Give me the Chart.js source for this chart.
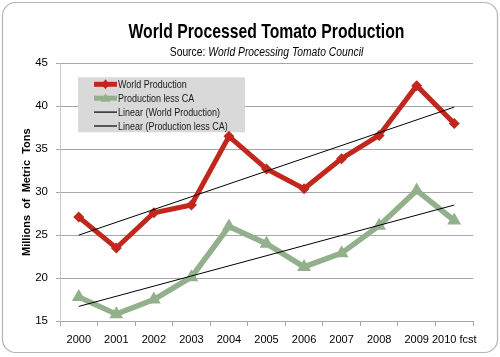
<!DOCTYPE html>
<html>
<head>
<meta charset="utf-8">
<script src="https://cdn.jsdelivr.net/npm/chart.js@4/dist/chart.umd.min.js"></script>
<style>
  html, body { margin: 0; padding: 0; background: #ffffff; }
  #wrap { width: 500px; height: 357px; position: relative; }
</style>
</head>
<body>
<div id="wrap"><canvas id="c" width="500" height="357"></canvas></div>
<script>
// ---- Data ----
const years = ['2000', '2001', '2002', '2003', '2004', '2005', '2006', '2007', '2008', '2009', '2010 fcst'];
const worldProduction = [27.1, 23.5, 27.6, 28.5, 36.5, 32.7, 30.4, 33.9, 36.6, 42.4, 38.0];
const productionLessCA = [17.8, 15.8, 17.5, 20.1, 26.0, 24.0, 21.3, 22.9, 26.1, 30.2, 26.7];
// Trend lines as drawn in the picture (endpoints)
const linearWorld = [25.0, null, null, null, null, null, null, null, null, null, 39.9];
const linearLessCA = [16.7, null, null, null, null, null, null, null, null, null, 28.5];
const yTicks = [15, 20, 25, 30, 35, 40, 45];

const chartTitle = 'World Processed Tomato Production';
const subtitleLead = 'Source: ';
const subtitleRest = 'World Processing Tomato Council';
const yTitle = 'Millions  of  Metric  Tons';

const RED = '#C1271D';
const GREEN = '#93B08C';
const FONT = '"Liberation Sans", Arial, sans-serif';

// draw text horizontally condensed (the reference uses a narrow typeface)
function condensedText(ctx, text, x, y, sx) {
  ctx.save();
  ctx.translate(x, y);
  ctx.scale(sx, 1);
  ctx.fillText(text, 0, 0);
  ctx.restore();
}

const framePlugin = {
  id: 'frame',
  beforeDraw(chart) {
    const ctx = chart.ctx;
    ctx.save();
    ctx.fillStyle = '#ffffff';
    ctx.fillRect(0, 0, chart.width, chart.height);
    ctx.beginPath();
    ctx.roundRect(2.5, 2.5, chart.width - 5, chart.height - 7, 13);
    ctx.strokeStyle = '#b4b4b4';
    ctx.lineWidth = 1.2;
    ctx.stroke();
    ctx.restore();
  },
  afterDraw(chart) {
    const ctx = chart.ctx;
    const ca = chart.chartArea;
    const cx = (ca.left + ca.right) / 2;
    ctx.save();
    ctx.fillStyle = '#000';
    ctx.textBaseline = 'middle';
    ctx.textAlign = 'left';
    // title
    ctx.font = 'bold 21px ' + FONT;
    const sxT = 0.75;
    const wt = ctx.measureText(chartTitle).width * sxT;
    condensedText(ctx, chartTitle, cx - wt / 2, 32, sxT);
    // subtitle with mixed styles
    const sxS = 0.86;
    const f1 = '12px ' + FONT;
    const f2 = 'italic 12px ' + FONT;
    ctx.font = f1; const w1 = ctx.measureText(subtitleLead).width * sxS;
    ctx.font = f2; const w2 = ctx.measureText(subtitleRest).width * sxS;
    const x0 = cx - (w1 + w2) / 2;
    ctx.font = f1;
    condensedText(ctx, subtitleLead, x0, 53, sxS);
    ctx.font = f2;
    condensedText(ctx, subtitleRest, x0 + w1, 53, sxS);
    ctx.restore();
  }
};

const legendPlugin = {
  id: 'boxLegend',
  beforeDatasetsDraw(chart) {
    const ctx = chart.ctx;
    const ca = chart.chartArea;
    const bx = ca.left + 18, by = ca.top + 14, bw = 167, bh = 55;
    ctx.save();
    ctx.fillStyle = '#d9d9d9';
    ctx.fillRect(bx, by, bw, bh);
    const rowH = 13.9;
    chart.data.datasets.forEach((ds, i) => {
      const y = by + 7 + i * rowH;
      const x1 = bx + 16, x2 = bx + 39;
      ctx.beginPath();
      ctx.moveTo(x1, y); ctx.lineTo(x2, y);
      ctx.strokeStyle = ds.borderColor;
      ctx.lineWidth = ds.legendLineWidth;
      ctx.stroke();
      if (ds.pointRadius > 0) {
        const mx = (x1 + x2) / 2;
        ctx.fillStyle = ds.borderColor;
        ctx.beginPath();
        if (ds.pointStyle === 'triangle') {
          ctx.moveTo(mx, y - 5); ctx.lineTo(mx + 5, y + 3.5); ctx.lineTo(mx - 5, y + 3.5);
        } else {
          ctx.moveTo(mx, y - 5); ctx.lineTo(mx + 4, y); ctx.lineTo(mx, y + 5); ctx.lineTo(mx - 4, y);
        }
        ctx.closePath(); ctx.fill();
      }
      ctx.fillStyle = '#1a1a1a';
      ctx.font = '11.5px ' + FONT;
      ctx.textBaseline = 'middle';
      ctx.textAlign = 'left';
      condensedText(ctx, ds.label, x2 + 1, y + 0.5, 0.78);
    });
    ctx.restore();
  }
};

new Chart(document.getElementById('c'), {
  type: 'line',
  data: {
    labels: years,
    datasets: [
      { label: 'World Production', data: worldProduction, borderColor: RED, backgroundColor: RED,
        borderWidth: 5, pointStyle: 'rectRot', pointRadius: 5.5, pointBorderWidth: 0, legendLineWidth: 5, order: 2 },
      { label: 'Production less CA', data: productionLessCA, borderColor: GREEN, backgroundColor: GREEN,
        borderWidth: 5.5, pointStyle: 'triangle', pointRadius: 8, pointBorderWidth: 0, legendLineWidth: 5, order: 3 },
      { label: 'Linear (World Production)', data: linearWorld, borderColor: '#000000', backgroundColor: '#000',
        borderWidth: 1, pointRadius: 0, spanGaps: true, legendLineWidth: 1.2, order: 0 },
      { label: 'Linear (Production less CA)', data: linearLessCA, borderColor: '#000000', backgroundColor: '#000',
        borderWidth: 1, pointRadius: 0, spanGaps: true, legendLineWidth: 1.2, order: 1 }
    ]
  },
  options: {
    responsive: false,
    animation: false,
    devicePixelRatio: 1,
    layout: { padding: { left: 0, right: 27, top: 63.3, bottom: 0 } },
    plugins: {
      legend: { display: false },
      tooltip: { enabled: false },
      title: { display: false }
    },
    scales: {
      x: {
        offset: true,
        grid: { display: true, drawOnChartArea: false, offset: true, tickLength: 5, color: '#a6a6a6' },
        border: { display: true, color: '#a6a6a6', width: 1 },
        ticks: { color: '#000', font: { family: FONT, size: 11 }, padding: 7, maxRotation: 0, autoSkip: false },
        afterFit(scale) { scale.height = 36; }
      },
      y: {
        min: 15, max: 45,
        afterBuildTicks(scale) { scale.ticks = yTicks.map(v => ({ value: v })); },
        grid: { color: '#a6a6a6', lineWidth: 1, tickLength: 4 },
        border: { display: true, color: '#c8c8c8', width: 1 },
        ticks: { color: '#000', font: { family: FONT, size: 11.5 }, padding: 8 },
        title: { display: true, text: yTitle, color: '#000',
          font: { family: FONT, size: 11, weight: 'bold', lineHeight: 1.2 },
          padding: { top: 20, bottom: 0 } },
        afterFit(scale) { scale.width = 60; }
      }
    }
  },
  plugins: [framePlugin, legendPlugin]
});
</script>
</body>
</html>
